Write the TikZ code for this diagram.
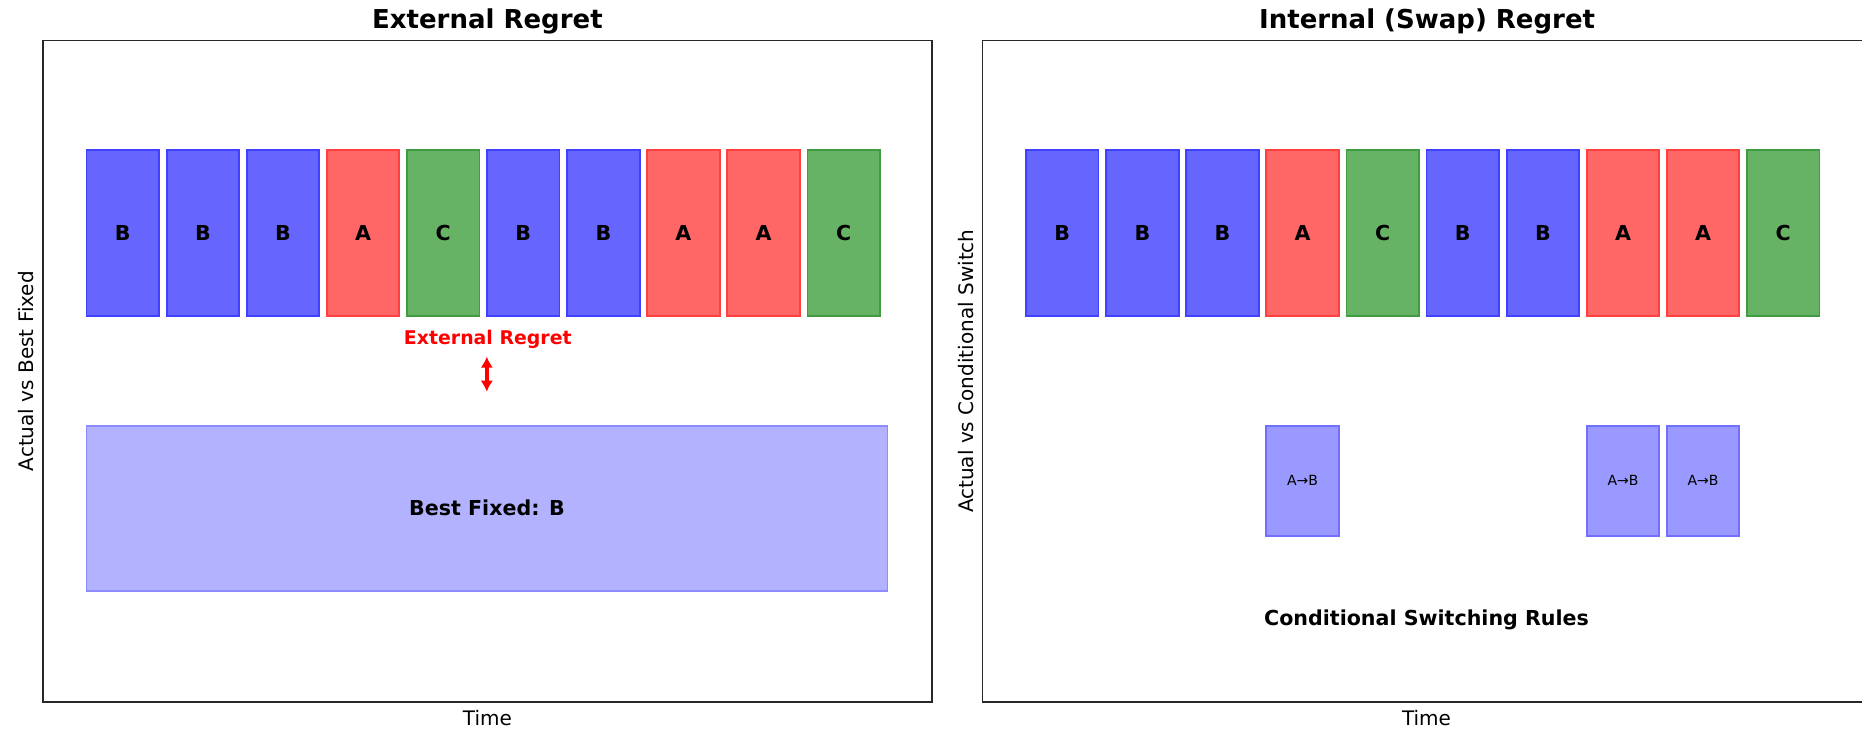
\documentclass[tikz,border=0pt]{standalone}
\usepackage{fontspec}
\setmainfont{DejaVu Sans}
\usetikzlibrary{arrows.meta}

% tile colours (translucent primaries over white)
\definecolor{bfill}{RGB}{102,102,255}
\definecolor{bedge}{RGB}{64,64,255}
\definecolor{afill}{RGB}{255,102,102}
\definecolor{aedge}{RGB}{255,64,64}
\definecolor{cfill}{RGB}{102,179,102}
\definecolor{cedge}{RGB}{64,156,64}
\definecolor{bestfill}{RGB}{178,178,255}
\definecolor{bestedge}{RGB}{140,140,255}
\definecolor{swapfill}{RGB}{153,153,255}
\definecolor{swapedge}{RGB}{112,112,255}
\definecolor{framecol}{RGB}{40,40,40}

\tikzset{
  frame/.style={draw=framecol, line width=1.6pt},
  tile/.style={rectangle, minimum width=72.5pt, minimum height=166pt,
    inner sep=0pt, line width=1.8pt,
    font=\fontsize{20.6}{24}\selectfont\bfseries},
  bestbox/.style={rectangle, minimum width=801pt, minimum height=165pt,
    inner sep=0pt, line width=1.8pt, fill=bestfill, draw=bestedge,
    font=\fontsize{20.6}{24}\selectfont\bfseries},
  swapbox/.style={rectangle, minimum width=72.5pt, minimum height=110.3pt,
    inner sep=0pt, line width=1.8pt, fill=swapfill, draw=swapedge,
    font=\fontsize{14}{16}\selectfont},
  paneltitle/.style={anchor=base, font=\fontsize{26}{30}\selectfont\bfseries},
  axislabel/.style={anchor=base, font=\fontsize{20}{24}\selectfont},
  note/.style={anchor=base, font=\fontsize{20.6}{24}\selectfont\bfseries},
  rednote/.style={anchor=base, text=red, font=\fontsize{18.9}{22}\selectfont\bfseries},
  gaparrow/.style={draw=red, line width=4pt,
    {Latex[length=11pt,width=12.5pt]}-{Latex[length=11pt,width=12.5pt]}}
}

\begin{document}
\begin{tikzpicture}[x=1pt,y=-1pt]
\useasboundingbox (0,0) rectangle (1862,730);
\clip (0,0) rectangle (1862,730);
\fill[white] (0,0) rectangle (1862,730);

% ---------------- left panel: external regret ----------------
\draw[frame] (42.7,40.5) rectangle (932.2,701.8);
\node[paneltitle] (ltitle) at (487.4,28.3) {External Regret};
\node[axislabel] (lxlabel) at (487.4,725) {Time};
\node[axislabel, rotate=90] (lylabel) at (33.3,371.2) {Actual vs Best Fixed};

\foreach \s/\f/\e [count=\i from 0] in
  {B/bfill/bedge, B/bfill/bedge, B/bfill/bedge, A/afill/aedge, C/cfill/cedge,
   B/bfill/bedge, B/bfill/bedge, A/afill/aedge, A/afill/aedge, C/cfill/cedge}
  \node[tile, fill=\f, draw=\e] (L\i) at ({122.75+80.1*\i},233) {\s};

\node[rednote] (gaplabel) at (487.8,344) {External Regret};
\coordinate (gaptop) at (486.8,356.7);
\coordinate (gapbot) at (486.8,391.7);
\draw[gaparrow] (gaptop) -- (gapbot);

\node[bestbox] (best) at (487,508.2) {Best Fixed: B};

% ---------------- right panel: internal (swap) regret ----------------
\draw[frame] (982.3,40.5) rectangle (1871.9,701.8);
\node[paneltitle] (rtitle) at (1427.1,28.3) {Internal (Swap) Regret};
\node[axislabel] (rxlabel) at (1426.5,725) {Time};
\node[axislabel, rotate=90] (rylabel) at (973,371.2) {Actual vs Conditional Switch};

\foreach \s/\f/\e [count=\i from 0] in
  {B/bfill/bedge, B/bfill/bedge, B/bfill/bedge, A/afill/aedge, C/cfill/cedge,
   B/bfill/bedge, B/bfill/bedge, A/afill/aedge, A/afill/aedge, C/cfill/cedge}
  \node[tile, fill=\f, draw=\e] (R\i) at ({1062.25+80.1*\i},233) {\s};

\foreach \i in {3,7,8}
  \node[swapbox] (S\i) at ({1062.25+80.1*\i},480.85) {A→B};

\node[note] (rules) at (1426.5,625) {Conditional Switching Rules};
\end{tikzpicture}
\end{document}
